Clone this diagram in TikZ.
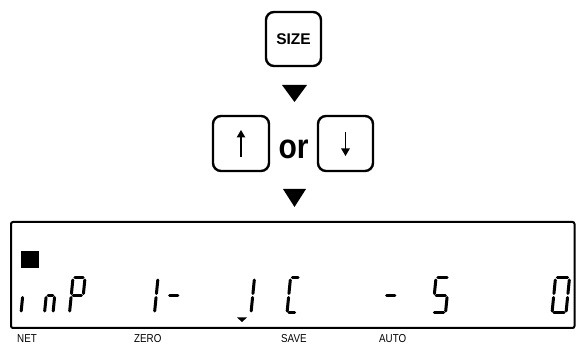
\documentclass[tikz,border=0pt]{standalone}
\usepackage{fontspec}
\setmainfont{Liberation Sans}
\newfontfamily\narrowfont{Liberation Sans}[FakeStretch=0.85]
\usetikzlibrary{arrows.meta,calc}
\tikzset{
  keybox/.style={draw, line width=2.4pt, rounded corners=8pt, inner sep=0pt},
  segline/.style={line width=3pt, line cap=round},
  lbl/.style={font=\narrowfont\fontsize{11.5}{11.5}\selectfont, inner sep=0pt, anchor=base west},
  keyarrow/.style={line width=1.2pt, -{Triangle[length=7.5pt,width=8.5pt]}},
  flowtri/.style={fill=black},
}
\newcommand\segw{12}
\def\sga{\draw[segline] (1.8,35) -- (\segw-1.8,35);}
\def\sgb{\draw[segline] (\segw,33) -- (\segw,19.5);}
\def\sgc{\draw[segline] (\segw,15.5) -- (\segw,2);}
\def\sgd{\draw[segline] (1.8,0) -- (\segw-1.8,0);}
\def\sge{\draw[segline] (0,15.5) -- (0,2);}
\def\sgf{\draw[segline] (0,33) -- (0,19.5);}
\def\sgg{\draw[segline] (1.8,17.5) -- (\segw-1.8,17.5);}
\newcommand\lcdglyph[3]{%
  \begin{scope}[shift={(#1,31)},xslant=0.1]
    \def\segw{#2}%
    \foreach \s in {#3}{\csname sg\s\endcsname}
  \end{scope}}
\begin{document}
\begin{tikzpicture}[x=1pt,y=1pt]
\useasboundingbox (0,0) rectangle (576,344);
% key SIZE
\node[keybox, minimum width=55pt, minimum height=54pt, font=\bfseries\fontsize{15.5}{15.5}\selectfont] (size) at (293.5,305) {SIZE};
% triangle 1
\fill[flowtri] (282,259) -- (307,259) -- (294.5,242) -- cycle;
% arrow keys
\node[keybox, minimum width=56pt, minimum height=55pt] (up) at (241,200.5) {};
\node[keybox, minimum width=55pt, minimum height=55pt] (down) at (345.5,200.5) {};
\node[font=\bfseries\fontsize{30}{30}\selectfont, inner sep=0pt, anchor=base, yscale=1.15] (or) at (293.5,185) {or};
\draw[keyarrow] ([yshift=-13.5pt]up.center) -- ([yshift=13.5pt]up.center);
\draw[keyarrow] ([yshift=11.5pt]down.center) -- ([yshift=-12.5pt]down.center);
% triangle 2
\fill[flowtri] (283,155) -- (306,155) -- (294.5,137) -- cycle;
% display
\node[draw, line width=2pt, rounded corners=2pt, minimum width=563.5pt, minimum height=106pt, inner sep=0pt] (display) at (292.75,69) {};
\fill (21,76) rectangle (39,93);
\lcdglyph{21}{8}{e}
\lcdglyph{44.5}{8.5}{e,g,c}
\lcdglyph{69.5}{12}{a,b,e,f,g}
\lcdglyph{154.5}{12}{e,f}
\lcdglyph{166}{12}{g}
\lcdglyph{251}{12}{e,f}
\lcdglyph{287}{9.5}{a,d,e,f}
\lcdglyph{383}{12}{g}
\lcdglyph{432.5}{13}{a,f,g,c,d}
\lcdglyph{552}{14}{a,b,c,d,e,f}
\fill (237,26.5) -- (247,26.5) -- (242,22) -- cycle;
% labels
\node[lbl] (net) at (17,1) {NET};
\node[lbl] (zero) at (134,1) {ZERO};
\node[lbl] (save) at (281,1) {SAVE};
\node[lbl] (auto) at (379,1) {AUTO};
\end{tikzpicture}
\end{document}
